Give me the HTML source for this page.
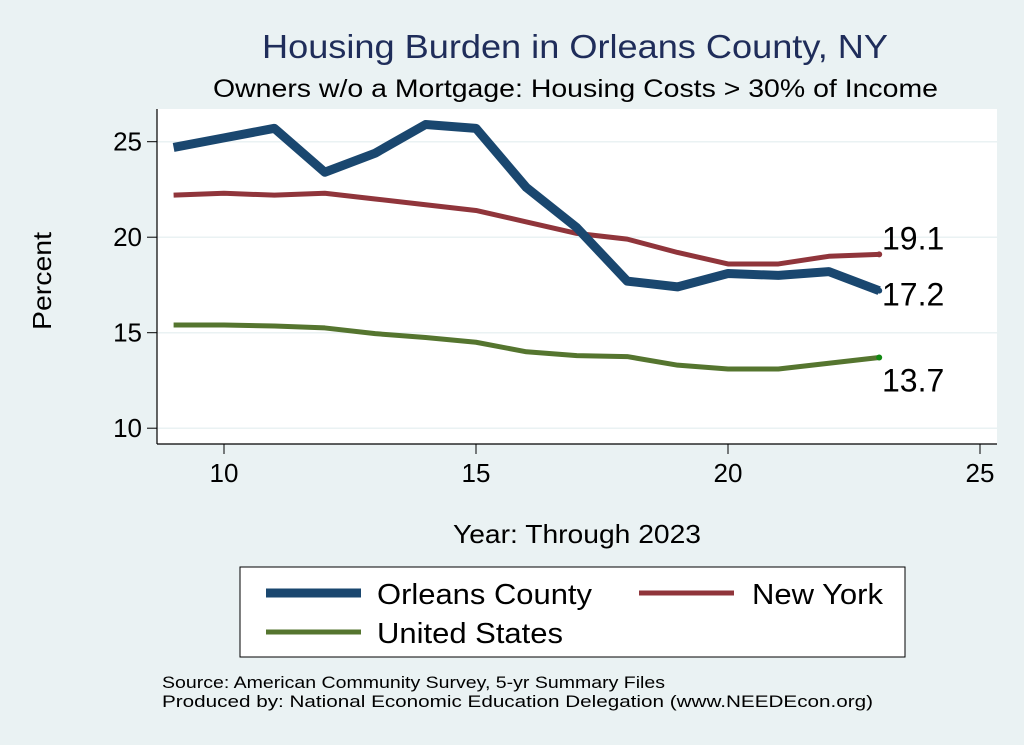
<!DOCTYPE html>
<html><head><meta charset="utf-8"><style>
body{margin:0;background:#eaf2f3;font-family:"Liberation Sans",sans-serif;}
svg{display:block}
</style></head><body>
<svg width="1024" height="745" viewBox="0 0 1024 745" xmlns="http://www.w3.org/2000/svg">
<rect x="0" y="0" width="1024" height="745" fill="#eaf2f3"/>
<text x="262" y="58" font-size="33" fill="#1f2d5a" textLength="626" lengthAdjust="spacingAndGlyphs">Housing Burden in Orleans County, NY</text>
<text x="213" y="97" font-size="25" fill="#000" textLength="725" lengthAdjust="spacingAndGlyphs">Owners w/o a Mortgage: Housing Costs &gt; 30% of Income</text>
<rect x="157" y="109" width="840" height="335" fill="#fff"/>
<g id="grid"></g>
<g id="axes"></g>
<g id="series"></g>
<text x="51" y="281" font-size="26" text-anchor="middle" textLength="98" lengthAdjust="spacingAndGlyphs" transform="rotate(-90 51 281)">Percent</text>
<text x="453" y="543" font-size="26" textLength="248" lengthAdjust="spacingAndGlyphs">Year: Through 2023</text>
<g>
<rect x="240" y="567" width="665" height="90" fill="#fff" stroke="#000" stroke-width="1"/>
<g><line x1="266" y1="593" x2="361" y2="593" stroke="#1a476f" stroke-width="9"/><text x="377" y="604" font-size="29" textLength="215" lengthAdjust="spacingAndGlyphs">Orleans County</text></g>
<g><line x1="639" y1="593" x2="734" y2="593" stroke="#90353b" stroke-width="5"/><text x="752" y="604" font-size="29" textLength="131" lengthAdjust="spacingAndGlyphs">New York</text></g>
<g><line x1="266" y1="632" x2="361" y2="632" stroke="#55752f" stroke-width="5"/><text x="377" y="643" font-size="29" textLength="186" lengthAdjust="spacingAndGlyphs">United States</text></g>
</g>
<text x="162" y="688" font-size="17" textLength="503" lengthAdjust="spacingAndGlyphs">Source: American Community Survey, 5-yr Summary Files</text>
<text x="162" y="707" font-size="17" textLength="711" lengthAdjust="spacingAndGlyphs">Produced by: National Economic Education Delegation (www.NEEDEcon.org)</text>
</svg>
<script>
const years=[9,10,11,12,13,14,15,16,17,18,19,20,21,22,23];
const orleans=[24.7,25.2,25.7,23.4,24.4,25.9,25.7,22.6,20.5,17.7,17.4,18.1,18.0,18.2,17.2];
const newYork=[22.2,22.3,22.2,22.3,22.0,21.7,21.4,20.8,20.2,19.9,19.2,18.6,18.6,19.0,19.1];
const unitedStates=[15.4,15.4,15.35,15.25,14.95,14.75,14.5,14.0,13.8,13.75,13.3,13.1,13.1,13.4,13.7];
const yTicks=[10,15,20,25];
const xTicks=[10,15,20,25];
const NS="http://www.w3.org/2000/svg";
const xs=v=>224+(v-10)*50.4;
const ys=v=>141.7+(25-v)*19.1;
function mk(tag,attrs,parent){const e=document.createElementNS(NS,tag);for(const k in attrs)e.setAttribute(k,attrs[k]);parent.appendChild(e);return e;}
const grid=document.getElementById('grid'),axes=document.getElementById('axes'),ser=document.getElementById('series');
yTicks.forEach(t=>{
 const g=mk('line',{x1:157,y1:ys(t),x2:997,y2:ys(t),stroke:'#eaf2f3','stroke-width':1.5},grid);
 
 
 mk('line',{x1:147,y1:ys(t),x2:157,y2:ys(t),stroke:'#000'},axes);
 const tx=mk('text',{x:142,y:ys(t)+9,'font-size':26,'text-anchor':'end'},axes);tx.textContent=t;
 
 
});
xTicks.forEach(t=>{
 mk('line',{x1:xs(t),y1:444,x2:xs(t),y2:454,stroke:'#000'},axes);
 const tx=mk('text',{x:xs(t),y:482,'font-size':26,'text-anchor':'middle'},axes);tx.textContent=t;
 
 
});
mk('line',{x1:157,y1:109,x2:157,y2:444,stroke:'#000','stroke-width':1.2},axes);
mk('line',{x1:157,y1:444,x2:997,y2:444,stroke:'#000','stroke-width':1.2},axes);
function line(vals,color,w,name,lx,ly,dot){
 const d=vals.map((v,i)=>(i?'L':'M')+xs(years[i])+','+ys(v)).join(' ');
 const p=mk('path',{d:d,fill:'none',stroke:color,'stroke-width':w,'stroke-linejoin':'round'},ser);
 
 
 const last=vals[vals.length-1];
 mk('circle',{cx:xs(years[years.length-1]),cy:ys(last),r:3,fill:dot},ser);
 const t=mk('text',{x:lx,y:ys(last)+ly,'font-size':32},ser);t.textContent=last.toFixed(1);
 
 
}
line(unitedStates,'#55752f',5,'line-united-states',882,34,'#118811');
line(newYork,'#90353b',5,'line-new-york',882,-5,'#90353b');
line(orleans,'#1a476f',9,'line-orleans-county',882,15,'#1a476f');
</script>
</body></html>
